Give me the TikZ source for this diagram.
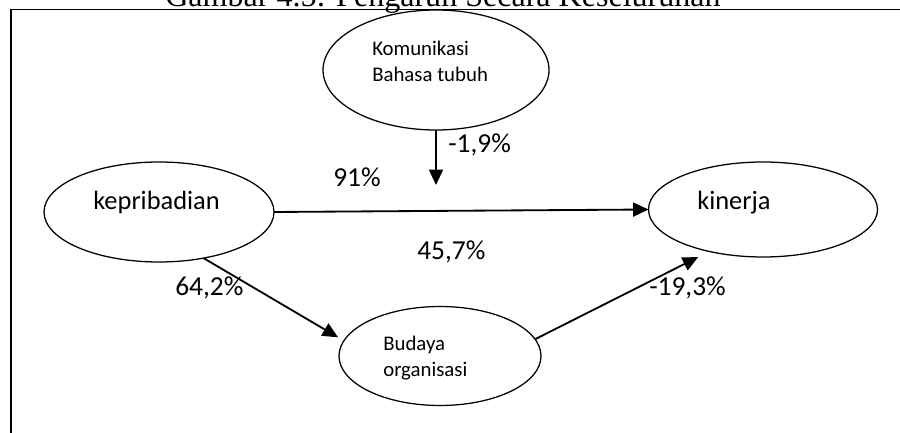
\documentclass[tikz,border=0pt]{standalone}
\usepackage{fontspec}
\setmainfont{Carlito}
\newfontfamily\titlefont{Liberation Serif}
\usetikzlibrary{arrows.meta}
\usetikzlibrary{shapes.geometric}

\begin{document}
\begin{tikzpicture}[
  var/.style={ellipse, draw, line width=0.9pt, inner sep=0pt, outer sep=0pt},
  big/.style={inner sep=0pt, anchor=base west, font=\fontsize{18.8}{22}\selectfont},
  small/.style={inner sep=0pt, anchor=base west, align=left, font=\fontsize{14.8}{19}\selectfont},
  pct/.style={inner sep=0pt, anchor=base west, font=\fontsize{19.5}{23}\selectfont},
  link/.style={line width=1.3pt, -{Triangle[length=11pt,width=10pt]}}
]
\useasboundingbox (0,0) rectangle (22.5,10.8);
\node[anchor=base, inner sep=0pt, font=\titlefont\fontsize{22.8}{26}\selectfont] (title) at (11.075,10.625) {Gambar 4.5: Pengaruh Secara Keseluruhan};
\draw[line width=1.4pt] (0.275,-0.5) rectangle (23,10.5625);

\node[var, minimum width=5.65cm, minimum height=3cm] (kom) at (10.9,9.05) {};
\node[var, minimum width=5.75cm, minimum height=2.5cm] (kep) at (3.975,5.5) {};
\node[var, minimum width=5.725cm, minimum height=2.375cm] (kin) at (19.075,5.5625) {};
\node[var, minimum width=5.05cm, minimum height=2.475cm] (bud) at (11,1.9) {};

\node[big] (kepText) at (2.325,5.55) {kepribadian};
\node[big] (kinText) at (17.425,5.5675) {kinerja};
\node[small] (komText) at (9.3,8.75) {Komunikasi\\Bahasa tubuh};
\node[small] (budText) at (9.575,1.375) {Budaya\\organisasi};

\coordinate (komEnd) at (10.9,6.175);
\draw[link] (kom.south) -- (komEnd);
\draw[link] (kep.east) -- (kin.west);
\draw[link, shorten >=4.8pt] (kep.-46) -- (bud.171);
\draw[link, shorten >=8.8pt] (bud.10) -- (kin.218);

\node[pct] (komPct) at (11.2,6.975) {-1,9\%};
\node[pct] (kepKinPct) at (8.325,6.125) {91\%};
\node[pct] (totalPct) at (10.425,4.3) {45,7\%};
\node[pct] (kepBudPct) at (4.375,3.4) {64,2\%};
\node[pct] (budKinPct) at (16.225,3.4) {-19,3\%};
\end{tikzpicture}
\end{document}
